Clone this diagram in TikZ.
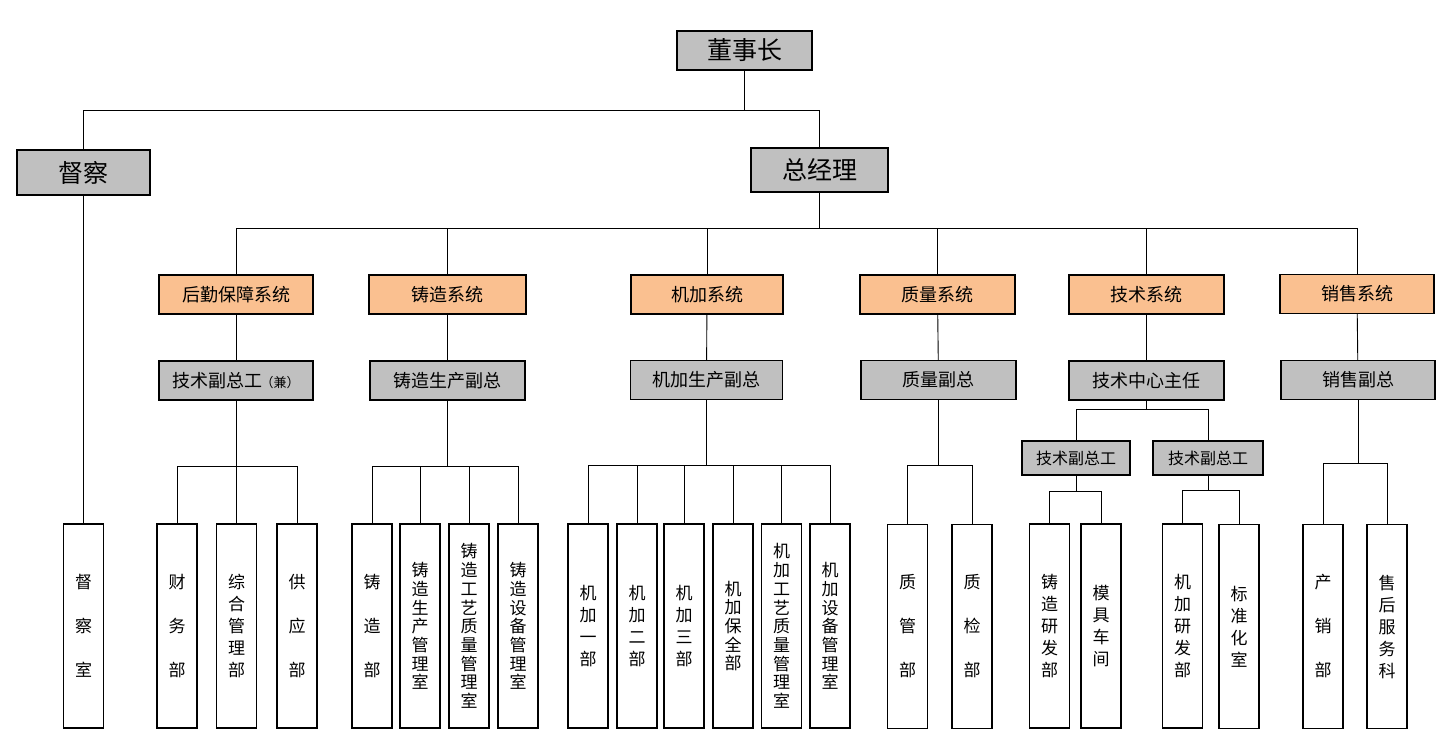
\documentclass[tikz,border=0pt]{standalone}
\usepackage{fontspec}
\newfontfamily\cjk{Noto Sans CJK SC}
\definecolor{boxgray}{HTML}{C0C0C0}
\definecolor{sysorange}{HTML}{FAC090}
\begin{document}
\begin{tikzpicture}[x=1pt,y=-1pt,
 base/.style={draw=black, line width=1.1pt, inner sep=0pt, text=black},
 topbox/.style={base, fill=boxgray, font=\cjk\fontsize{25}{30}\selectfont},
 sysbox/.style={base, fill=sysorange, minimum height=39pt, font=\cjk\fontsize{18}{22}\selectfont},
 depbox/.style={base, fill=boxgray, minimum height=39pt, font=\cjk\fontsize{18}{22}\selectfont},
 subbox/.style={base, fill=boxgray, minimum height=34pt, font=\cjk\fontsize{16}{20}\selectfont},
 leaf/.style={base, fill=white, minimum width=40pt, minimum height=204pt, align=center, font=\cjk\fontsize{17}{22}\selectfont},
 tight/.style={font=\cjk\fontsize{17}{18.7}\selectfont},
 conn/.style={draw=black, line width=0.9pt}
]
\useasboundingbox (0,0) rectangle (1451,736);

% top level
\node[topbox, minimum width=135pt, minimum height=39pt] (dsz) at (744.5,50.5) {董事长};
\node[topbox, minimum width=133pt, minimum height=45pt] (dc) at (83.5,172.5) {督察};
\node[topbox, minimum width=137pt, minimum height=44pt] (zjl) at (819.5,170) {总经理};

% systems
\node[sysbox, minimum width=154pt] (s1) at (236,294.5) {后勤保障系统};
\node[sysbox, minimum width=157pt] (s2) at (447.5,294.5) {铸造系统};
\node[sysbox, minimum width=152pt] (s3) at (707,294.5) {机加系统};
\node[sysbox, minimum width=155pt] (s4) at (937.5,294.5) {质量系统};
\node[sysbox, minimum width=155pt] (s5) at (1146.5,294.5) {技术系统};
\node[sysbox, minimum width=154pt] (s6) at (1357,294) {销售系统};

% deputies
\node[depbox, minimum width=154pt] (d1) at (236,380.5) {技术副总工\hspace{-2pt}{\fontsize{13}{13}\selectfont（兼）}};
\node[depbox, minimum width=155pt] (d2) at (447.5,380.5) {铸造生产副总};
\node[depbox, minimum width=152pt] (d3) at (706.5,380) {机加生产副总};
\node[depbox, minimum width=155pt] (d4) at (938.5,380) {质量副总};
\node[depbox, minimum width=155pt] (d5) at (1146.5,380.5) {技术中心主任};
\node[depbox, minimum width=154pt] (d6) at (1358,380) {销售副总};

% technical sub
\node[subbox, minimum width=108pt] (t1) at (1076,458) {技术副总工};
\node[subbox, minimum width=110pt] (t2) at (1208,458) {技术副总工};

% leaves
\node[leaf] (l0) at (83.5,626) {督\\[22pt]察\\[22pt]室};
\node[leaf] (a1) at (177,626) {财\\[22pt]务\\[22pt]部};
\node[leaf] (a2) at (236.5,626) {综\\合\\管\\理\\部};
\node[leaf] (a3) at (297,626) {供\\[22pt]应\\[22pt]部};
\node[leaf] (b1) at (372,626) {铸\\[22pt]造\\[22pt]部};
\node[leaf, tight] (b2) at (420,626) {铸\\造\\生\\产\\管\\理\\室};
\node[leaf, tight] (b3) at (469,626) {铸\\造\\工\\艺\\质\\量\\管\\理\\室};
\node[leaf, tight] (b4) at (518,626) {铸\\造\\设\\备\\管\\理\\室};
\node[leaf] (c1) at (588,626) {机\\加\\一\\部};
\node[leaf] (c2) at (637,626) {机\\加\\二\\部};
\node[leaf] (c3) at (684,626) {机\\加\\三\\部};
\node[leaf, tight] (c4) at (733,626) {机\\加\\保\\全\\部};
\node[leaf, tight] (c5) at (781.5,626) {机\\加\\工\\艺\\质\\量\\管\\理\\室};
\node[leaf, tight] (c6) at (830,626) {机\\加\\设\\备\\管\\理\\室};
\node[leaf] (e1) at (907.5,626.5) {质\\[22pt]管\\[22pt]部};
\node[leaf] (e2) at (972,626.5) {质\\[22pt]检\\[22pt]部};
\node[leaf] (f1) at (1049.5,626) {铸\\造\\研\\发\\部};
\node[leaf] (f2) at (1101,626) {模\\具\\车\\间};
\node[leaf] (g1) at (1182.5,626) {机\\加\\研\\发\\部};
\node[leaf] (g2) at (1239,626.5) {标\\准\\化\\室};
\node[leaf] (h1) at (1323,626.5) {产\\[22pt]销\\[22pt]部};
\node[leaf] (h2) at (1387,626.5) {售\\后\\服\\务\\科};

% connectors
\draw[conn] (dsz.south) -- ++(0,40) -| (dc.north);
\draw[conn] (dsz.south) -- ++(0,40) -| (zjl.north);
\draw[conn] (dc.south) -- (l0.north);
\foreach \s in {s1,s2,s3,s4,s5,s6}{
  \draw[conn] (zjl.south) -- ++(0,36) -| (\s.north);
}
\draw[conn] (s1) -- (d1);
\draw[conn] (s2) -- (d2);
\draw[conn] (s3) -- (d3);
\draw[conn] (s4) -- (d4);
\draw[conn] (s5) -- (d5);
\draw[conn] (s6) -- (d6);
\foreach \c in {a1,a2,a3}{\draw[conn] (d1.south) -- ++(0,66) -| (\c.north);}
\foreach \c in {b1,b2,b3,b4}{\draw[conn] (d2.south) -- ++(0,66) -| (\c.north);}
\foreach \c in {c1,c2,c3,c4,c5,c6}{\draw[conn] (d3.south) -- ++(0,65.5) -| (\c.north);}
\foreach \c in {e1,e2}{\draw[conn] (d4.south) -- ++(0,65.5) -| (\c.north);}
\foreach \c in {t1,t2}{\draw[conn] (d5.south) -- ++(0,9) -| (\c.north);}
\foreach \c in {f1,f2}{\draw[conn] (t1.south) -- ++(0,16) -| (\c.north);}
\foreach \c in {g1,g2}{\draw[conn] (t2.south) -- ++(0,15) -| (\c.north);}
\foreach \c in {h1,h2}{\draw[conn] (d6.south) -- ++(0,63.5) -| (\c.north);}
\end{tikzpicture}
\end{document}
